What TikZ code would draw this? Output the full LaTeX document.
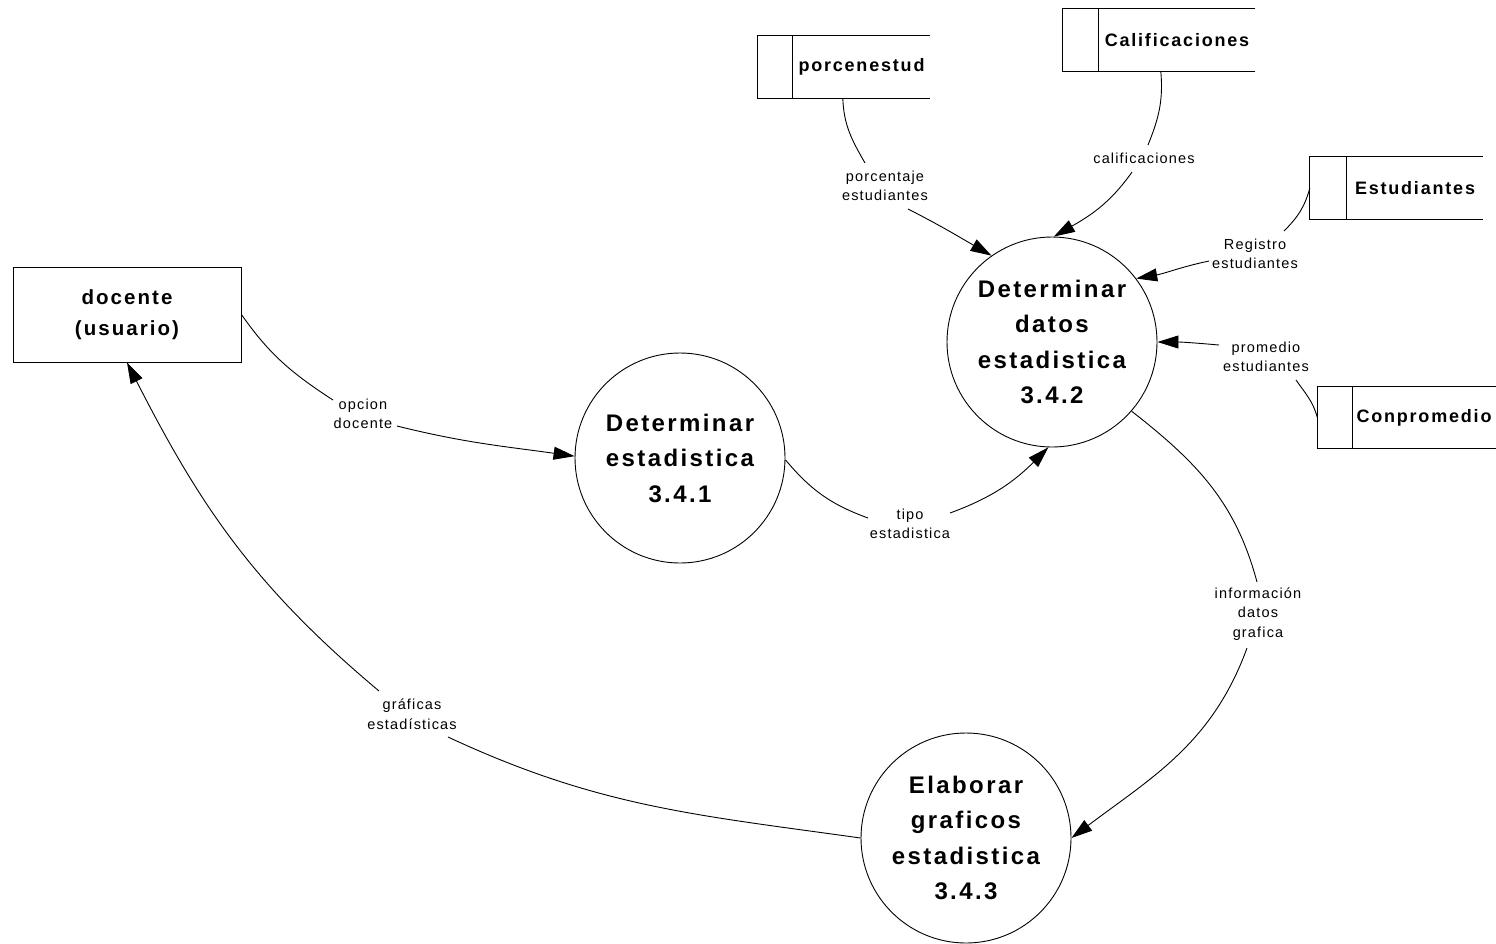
\documentclass[tikz,border=0pt]{standalone}
\usepackage{fontspec}
\setmainfont{Liberation Sans}
\newfontfamily\labfont{Liberation Sans}[LetterSpace=8]
\newfontfamily\headfont{Liberation Sans}[LetterSpace=10]
\usetikzlibrary{arrows.meta}
\begin{document}
\begin{tikzpicture}[x=1pt,y=1pt,
  flow/.style={line width=0.9pt},
  arr/.style={flow,-{Triangle[length=21pt,width=13pt]}},
  proc/.style={circle,draw,line width=0.9pt,minimum size=210pt,inner sep=0pt,align=center,
    font={\headfont\bfseries\fontsize{24}{35.5}\selectfont}},
  ext/.style={draw,line width=0.9pt,minimum width=228pt,minimum height=95pt,inner sep=0pt,align=center,
    font={\headfont\bfseries\fontsize{20.5}{31}\selectfont}},
  store/.style={minimum height=62pt,inner sep=0pt,
    font={\headfont\bfseries\fontsize{18}{22}\selectfont}},
  lbl/.style={inner sep=0pt,align=center,font={\labfont\fontsize{14.5}{19.5}\selectfont}}]
\useasboundingbox (0,-943) rectangle (1496,0);

% external entity
\node[ext] (doc) at (127,-314.5) {docente\\(usuario)};

% processes
\node[proc] (c1) at (680,-458) {Determinar\\estadistica\\3.4.1};
\node[proc] (c2) at (1052,-342) {Determinar\\datos\\estadistica\\3.4.2};
\node[proc] (c3) at (966,-838) {Elaborar\\graficos\\estadistica\\3.4.3};

% data stores (text part; the left compartment is drawn below)
\node[store,minimum width=137pt] (s1) at (861.5,-67) {porcenestud};
\node[store,minimum width=156pt] (s2) at (1177,-40) {Calificaciones};
\node[store,minimum width=136pt] (s3) at (1415,-188) {Estudiantes};
\node[store,minimum width=143pt,minimum height=61pt] (s4) at (1424,-417.5) {Conpromedio};
\foreach \s/\w in {s1/35,s2/36,s3/37,s4/35}{
  \draw[flow] (\s.north east) -- ([xshift=-\w pt]\s.north west)
    -- ([xshift=-\w pt]\s.south west) -- (\s.south east);
  \draw[flow] (\s.north west) -- (\s.south west);
}

% flow labels
\node[lbl] (l1) at (363,-414) {opcion\\docente};
\node[lbl] (l2) at (910,-524) {tipo\\estadistica};
\node[lbl] (l3) at (885,-186) {porcentaje\\estudiantes};
\node[lbl] (l4) at (1144,-158) {calificaciones};
\node[lbl] (l5) at (1255,-254) {Registro\\estudiantes};
\node[lbl] (l6) at (1266,-357) {promedio\\estudiantes};
\node[lbl] (l7) at (1258,-614) {información\\datos\\grafica};
\node[lbl] (l8) at (412,-714) {gráficas\\estadísticas};

% flows
\draw[flow] (doc.east) to[out=-55,in=147] ([shift={(-30,14)}]l1.center);
\draw[arr] ([shift={(34,-12)}]l1.center) to[out=-14,in=172] (c1.179);

\draw[flow] (c1.-1) to[out=-50,in=160] ([shift={(-42,6)}]l2.center);
\draw[arr] ([shift={(40,11)}]l2.center) to[out=20,in=-135] (c2.-92);

\draw[flow] ([xshift=50pt]s1.south west) to[out=-88,in=120] ([shift={(-20,23)}]l3.center);
\draw[arr] ([shift={(23,-23)}]l3.center) to[out=-27,in=150] (c2.125);

\draw[flow] ([xshift=62pt]s2.south west) to[out=-85,in=68] ([shift={(4,13)}]l4.center);
\draw[arr] ([shift={(-12,-14)}]l4.center) to[out=-125,in=30] (c2.89);

\draw[flow] ([xshift=-37pt]s3.west) to[out=-105,in=45] ([shift={(29,23)}]l5.center);
\draw[arr] ([shift={(-46,-7)}]l5.center) to[out=-168,in=10] (c2.37);

\draw[flow] ([xshift=-35pt]s4.west) to[out=105,in=-55] ([shift={(30,-23)}]l6.center);
\draw[arr] ([shift={(-47,12)}]l6.center) to[out=175,in=0] (c2.0);

\draw[flow] (c2.-41) to[out=-38,in=105] ([shift={(-1,32)}]l7.center);
\draw[arr] ([shift={(-11,-34)}]l7.center) to[out=-110,in=37] (c3.0);

\draw[flow] (c3.180) to[out=172,in=-25] ([shift={(36,-23)}]l8.center);
\draw[arr] ([shift={(-33,23)}]l8.center) to[out=140,in=-63] (doc.south);
\end{tikzpicture}
\end{document}
